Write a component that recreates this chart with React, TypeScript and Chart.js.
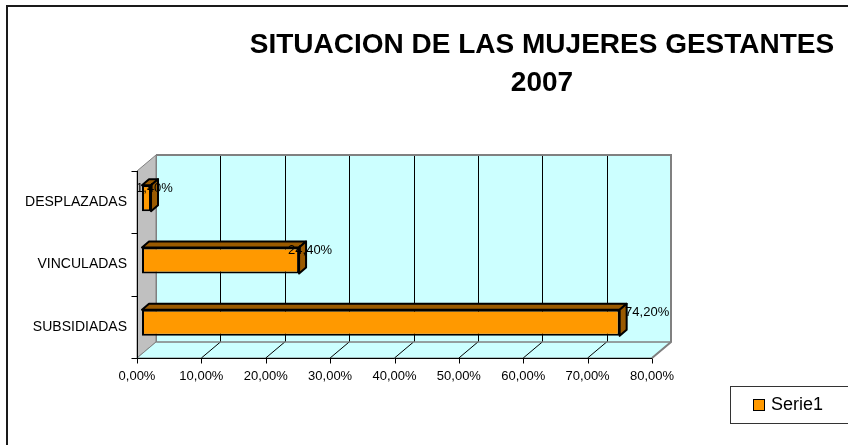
import React, { useEffect, useRef } from "react";
import { Chart, registerables } from "chart.js";

Chart.register(...registerables);

const categories = ["DESPLAZADAS", "VINCULADAS", "SUBSIDIADAS"];
const serieValues = [1.4, 24.4, 74.2];
const seriesName = "Serie1";
const titleLines = ["SITUACION DE LAS MUJERES GESTANTES", "2007"];
const xMin = 0;
const xMax = 80;
const xStep = 10;

const FONT = '"Liberation Sans", Arial, sans-serif';
const fmt = (v: number) => v.toFixed(2).replace(".", ",") + "%";

// depth offsets relative to the bar plane
const FRONT = { dx: -5, dy: 4 };
const BACK = { dx: 14, dy: -12 };
const BAR_D = { dx: 7, dy: -6 };

const decorPlugin = {
  id: "decor3d",
  beforeDraw(chart: any) {
    const ctx = chart.ctx;
    ctx.save();
    ctx.fillStyle = "#ffffff";
    ctx.fillRect(0, 0, chart.width, chart.height);
    // frame
    ctx.strokeStyle = "#1a1a1a";
    ctx.lineWidth = 2;
    ctx.beginPath();
    ctx.moveTo(7, chart.height + 5);
    ctx.lineTo(7, 6);
    ctx.lineTo(chart.width + 5, 6);
    ctx.stroke();
    // title
    ctx.fillStyle = "#000";
    ctx.font = "bold 28px " + FONT;
    ctx.textAlign = "center";
    ctx.textBaseline = "alphabetic";
    ctx.fillText(titleLines[0], 542, 53);
    ctx.fillText(titleLines[1], 542, 91);
    // legend
    ctx.strokeStyle = "#333";
    ctx.lineWidth = 1;
    ctx.strokeRect(730.5, 386.5, 140, 37);
    ctx.fillStyle = "#FF9900";
    ctx.fillRect(753, 399, 12, 12);
    ctx.strokeStyle = "#000";
    ctx.strokeRect(753.5, 399.5, 11, 11);
    ctx.fillStyle = "#000";
    ctx.font = "18px " + FONT;
    ctx.textAlign = "left";
    ctx.textBaseline = "middle";
    ctx.fillText(chart.data.datasets[0].label, 771, 405);
    ctx.restore();
  },
  beforeDatasetsDraw(chart: any) {
    const ctx = chart.ctx;
    const xs = chart.scales.x;
    const { top, bottom } = chart.chartArea;
    const x0 = xs.getPixelForValue(xMin);
    const x1 = xs.getPixelForValue(xMax);
    ctx.save();
    // back wall
    ctx.fillStyle = "#CCFFFF";
    ctx.fillRect(x0 + BACK.dx, top + BACK.dy, x1 - x0, bottom - top);
    // gridlines on back wall
    ctx.strokeStyle = "#000";
    ctx.lineWidth = 1;
    for (let v = xMin + xStep; v < xMax; v += xStep) {
      const px = Math.round(xs.getPixelForValue(v)) + 0.5;
      ctx.beginPath();
      ctx.moveTo(px + BACK.dx, top + BACK.dy);
      ctx.lineTo(px + BACK.dx, bottom + BACK.dy);
      ctx.stroke();
    }
    // left wall
    ctx.fillStyle = "#C0C0C0";
    ctx.strokeStyle = "#808080";
    ctx.lineWidth = 1;
    ctx.beginPath();
    ctx.moveTo(x0 + FRONT.dx, top + FRONT.dy);
    ctx.lineTo(x0 + BACK.dx, top + BACK.dy);
    ctx.lineTo(x0 + BACK.dx, bottom + BACK.dy);
    ctx.lineTo(x0 + FRONT.dx, bottom + FRONT.dy);
    ctx.closePath();
    ctx.fill();
    ctx.stroke();
    // floor
    ctx.fillStyle = "#CCFFFF";
    ctx.beginPath();
    ctx.moveTo(x0 + FRONT.dx, bottom + FRONT.dy);
    ctx.lineTo(x1 + FRONT.dx, bottom + FRONT.dy);
    ctx.lineTo(x1 + BACK.dx, bottom + BACK.dy);
    ctx.lineTo(x0 + BACK.dx, bottom + BACK.dy);
    ctx.closePath();
    ctx.fill();
    ctx.stroke();
    // floor gridlines
    ctx.strokeStyle = "#000";
    for (let v = xMin + xStep; v < xMax; v += xStep) {
      const px = xs.getPixelForValue(v);
      ctx.beginPath();
      ctx.moveTo(px + FRONT.dx, bottom + FRONT.dy);
      ctx.lineTo(px + BACK.dx, bottom + BACK.dy);
      ctx.stroke();
    }
    // wall outer edges
    ctx.strokeStyle = "#808080";
    ctx.lineWidth = 2;
    ctx.beginPath();
    ctx.moveTo(x0 + BACK.dx, top + BACK.dy);
    ctx.lineTo(x1 + BACK.dx, top + BACK.dy);
    ctx.lineTo(x1 + BACK.dx, bottom + BACK.dy);
    ctx.lineTo(x1 + FRONT.dx, bottom + FRONT.dy);
    ctx.stroke();
    ctx.lineWidth = 1;
    ctx.beginPath();
    ctx.moveTo(x0 + BACK.dx + 0.5, top + BACK.dy);
    ctx.lineTo(x0 + BACK.dx + 0.5, bottom + BACK.dy);
    ctx.lineTo(x1 + BACK.dx, bottom + BACK.dy);
    ctx.stroke();
    // front axes
    ctx.strokeStyle = "#000";
    ctx.lineWidth = 1;
    const fy = Math.round(bottom + FRONT.dy) + 0.5;
    const fx = Math.round(x0 + FRONT.dx) + 0.5;
    ctx.beginPath();
    ctx.moveTo(fx, fy);
    ctx.lineTo(x1 + FRONT.dx, fy);
    ctx.stroke();
    for (let v = xMin; v <= xMax; v += xStep) {
      const px = Math.round(xs.getPixelForValue(v) + FRONT.dx) + 0.5;
      ctx.beginPath();
      ctx.moveTo(px, fy);
      ctx.lineTo(px, fy + 5);
      ctx.stroke();
    }
    ctx.beginPath();
    ctx.moveTo(fx, top + FRONT.dy);
    ctx.lineTo(fx, fy);
    ctx.stroke();
    const n = chart.data.labels.length;
    for (let i = 0; i <= n; i++) {
      const py = Math.round(top + FRONT.dy + ((bottom - top) * i) / n) + 0.5;
      ctx.beginPath();
      ctx.moveTo(fx - 6, py);
      ctx.lineTo(fx, py);
      ctx.stroke();
    }
    ctx.restore();
  },
  afterDatasetsDraw(chart: any) {
    const ctx = chart.ctx;
    const meta = chart.getDatasetMeta(0);
    const values = chart.data.datasets[0].data;
    ctx.save();
    meta.data.forEach((bar: any) => {
      const { x, y, base, height } = bar.getProps(["x", "y", "base", "height"], true);
      const l = Math.min(x, base);
      const r = Math.max(x, base);
      const t = y - height / 2;
      const b = y + height / 2;
      ctx.fillStyle = "#9A5A00";
      ctx.strokeStyle = "#000";
      ctx.lineWidth = 2;
      ctx.lineJoin = "round";
      ctx.beginPath();
      ctx.moveTo(l, t);
      ctx.lineTo(l + BAR_D.dx, t + BAR_D.dy);
      ctx.lineTo(r + BAR_D.dx, t + BAR_D.dy);
      ctx.lineTo(r, t);
      ctx.closePath();
      ctx.fill();
      ctx.stroke();
      ctx.beginPath();
      ctx.moveTo(r, t);
      ctx.lineTo(r + BAR_D.dx, t + BAR_D.dy);
      ctx.lineTo(r + BAR_D.dx, b + BAR_D.dy);
      ctx.lineTo(r, b);
      ctx.closePath();
      ctx.fill();
      ctx.stroke();
    });
    ctx.fillStyle = "#000";
    ctx.font = "13px " + FONT;
    ctx.textAlign = "center";
    ctx.textBaseline = "middle";
    meta.data.forEach((bar: any, i: number) => {
      const v = values[i];
      ctx.fillText(fmt(v), bar.x + 3 + v * 0.33, bar.y - 10);
    });
    ctx.restore();
  },
};

export default function App() {
  const ref = useRef<HTMLCanvasElement>(null);
  useEffect(() => {
    if (!ref.current) return;
    const chart = new Chart(ref.current, {
      type: "bar",
      data: {
        labels: categories,
        datasets: [
          {
            label: seriesName,
            data: serieValues,
            backgroundColor: "#FF9900",
            borderColor: "#000",
            borderWidth: 2,
            borderSkipped: false,
            categoryPercentage: 1,
            barPercentage: 0.417,
          },
        ],
      },
      options: {
        indexAxis: "y",
        responsive: false,
        animation: false,
        devicePixelRatio: 1,
        layout: { padding: { left: 0, top: 167, right: 191, bottom: 51 } },
        plugins: {
          legend: { display: false },
          title: { display: false },
          tooltip: { enabled: false },
        },
        scales: {
          x: {
            type: "linear",
            min: xMin,
            max: xMax,
            grid: { display: false, drawTicks: false },
            border: { display: false },
            ticks: {
              stepSize: xStep,
              color: "#000",
              font: { family: FONT, size: 13 },
              padding: 15,
              labelOffset: -5,
              callback: (v: any) => fmt(Number(v)),
            },
            afterFit: (s: any) => {
              s.height = 40;
            },
          },
          y: {
            grid: { display: false, drawTicks: false },
            border: { display: false },
            ticks: {
              color: "#000",
              font: { family: FONT, size: 14 },
              padding: 15,
              labelOffset: 4,
            },
            afterFit: (s: any) => {
              s.width = 142;
            },
          },
        },
      },
      plugins: [decorPlugin],
    } as any);
    return () => chart.destroy();
  }, []);
  return (
    <div style={{ position: "absolute", left: 0, top: 0, width: 848, height: 445, overflow: "hidden" }}>
      <canvas ref={ref} width={848} height={445} style={{ display: "block" }} />
    </div>
  );
}
